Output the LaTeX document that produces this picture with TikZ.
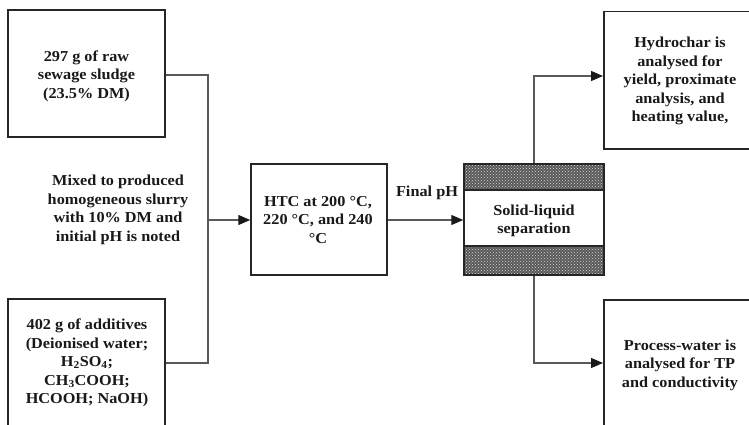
\documentclass[tikz,border=0pt]{standalone}
\usepackage{fontspec}
\setmainfont{Liberation Serif}[FakeStretch=1.07]
\usetikzlibrary{arrows.meta,patterns}
\begin{document}
\begin{tikzpicture}[x=1pt,y=-1pt,
  every node/.style={font=\fontsize{15.2}{18.5}\selectfont\bfseries, text=black!90, align=center, inner sep=0pt},
  boxstyle/.style={draw=black!85, line width=1.5pt, fill=white},
  conn/.style={draw=black!65, line width=1.2pt},
  arr/.style={conn, -{Triangle[length=12pt,width=10pt,color=black!90]}},
  bandfill/.style={fill=black!65},
  banddots/.style={pattern=crosshatch dots, pattern color=white!85!black}]
\useasboundingbox (0,0) rectangle (749,425);
\clip (0,0) rectangle (749,425);
% boxes
\node[boxstyle, minimum width=157pt, minimum height=127pt] (sludge) at (86.5,73.5) {};
\node[boxstyle, minimum width=157pt, minimum height=128pt] (add) at (86.5,363) {};
\node[boxstyle, minimum width=136pt, minimum height=111pt] (htc) at (319,219.5) {};
\node[boxstyle, minimum width=160pt, minimum height=137pt, anchor=north west] (hydro) at (603,11) {};
\node[boxstyle, minimum width=160pt, minimum height=128pt, anchor=north west] (pw) at (603,299) {};
% separator
\node[boxstyle, minimum width=140pt, minimum height=111pt] (sep) at (534,219.5) {};
\fill[bandfill] (464,164) rectangle (604,190);
\fill[bandfill] (464,246) rectangle (604,275);
\fill[banddots] (464,164) rectangle (604,190);
\fill[banddots] (464,246) rectangle (604,275);
\draw[black!85, line width=1.5pt] (464,190) -- (604,190) (464,246) -- (604,246);
\draw[black!85, line width=1.5pt] (464,164) rectangle (604,275);
% texts
\node at (86.5,76) {297 g of raw\\sewage sludge\\(23.5\% DM)};
\node at (118,210) {Mixed to produced\\homogeneous slurry\\with 10\% DM and\\initial pH is noted};
\node at (87,363) {402 g of additives\\(Deionised water;\\H\textsubscript{2}SO\textsubscript{4};\\CH\textsubscript{3}COOH;\\HCOOH; NaOH)};
\node at (318,220) {HTC at 200 °C,\\220 °C, and 240\\°C};
\node (fph) at (427,193) {Final pH};
\node at (534,221) {Solid-liquid\\separation};
\node at (680,81) {Hydrochar is\\analysed for\\yield, proximate\\analysis, and\\heating value,};
\node at (680,365) {Process-water is\\analysed for TP\\and conductivity};
% connectors
\coordinate (j) at (208,220);
\draw[conn] (sludge.east |- 0,75) -| (j);
\draw[conn] (add.east) -| (j);
\draw[arr] (j) -- (htc.west |- j);
\draw[arr] (htc.east |- j) -- (sep.west |- j);
\draw[arr] (sep.north) |- (hydro.west |- 0,76);
\draw[arr] (sep.south) |- (pw.west |- 0,363);
\end{tikzpicture}
\end{document}
